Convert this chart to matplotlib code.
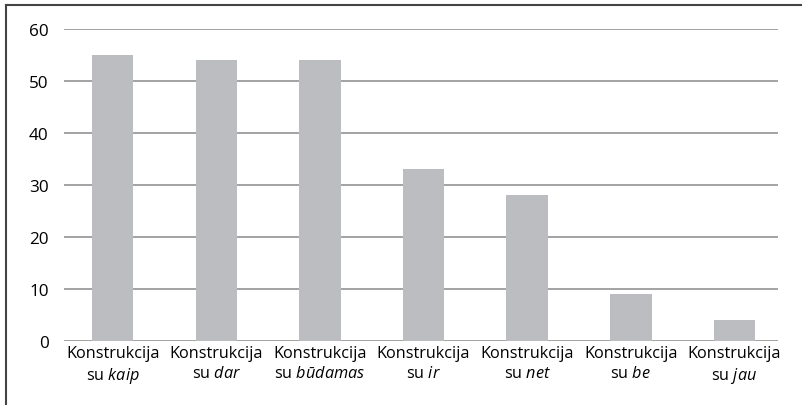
import matplotlib
matplotlib.use("Agg")
import matplotlib.pyplot as plt
from matplotlib.lines import Line2D

plt.rcParams['font.family'] = ['Open Sans', 'DejaVu Sans']
plt.rcParams['mathtext.fontset'] = 'custom'
plt.rcParams['mathtext.rm'] = 'Open Sans'
plt.rcParams['mathtext.it'] = 'Open Sans:italic'

# data
words = ['kaip', 'dar', 'būdamas', 'ir', 'net', 'be', 'jau']
values = [55, 54, 54, 33, 28, 9, 4]
yticks = [0, 10, 20, 30, 40, 50, 60]
labels = ['Konstrukcija\nsu $\\mathit{%s}$' % w for w in words]

fig = plt.figure(figsize=(8.03, 4.06), dpi=100)
ax = fig.add_axes([64 / 803, 64 / 406, 714 / 803, 312 / 406])

x = list(range(len(values)))
ax.bar(x, values, width=0.4, color='#bcbdc0', zorder=2)

# gridlines
for t in yticks:
    ax.axhline(t, color='#8a8a8a', lw=1.1, zorder=1)

ax.set_ylim(0, 60)
ax.set_xlim(-0.47, 6.42)
ax.set_yticks(yticks)
ax.set_xticks(x)
ax.set_xticklabels(labels, fontsize=11.7, linespacing=1.3)
ax.tick_params(axis='y', labelsize=12.3, length=0, pad=11)
ax.tick_params(axis='x', length=0, pad=3)
for s in ax.spines.values():
    s.set_visible(False)

# outer frame (left and top edges)
fig.add_artist(Line2D([6 / 803, 6 / 803], [0, 1 - 6 / 406], transform=fig.transFigure,
                      color='#444444', lw=1.5))
fig.add_artist(Line2D([6 / 803, 1], [1 - 6 / 406, 1 - 6 / 406], transform=fig.transFigure,
                      color='#444444', lw=1.5))

fig.savefig('out.png', dpi=100)
